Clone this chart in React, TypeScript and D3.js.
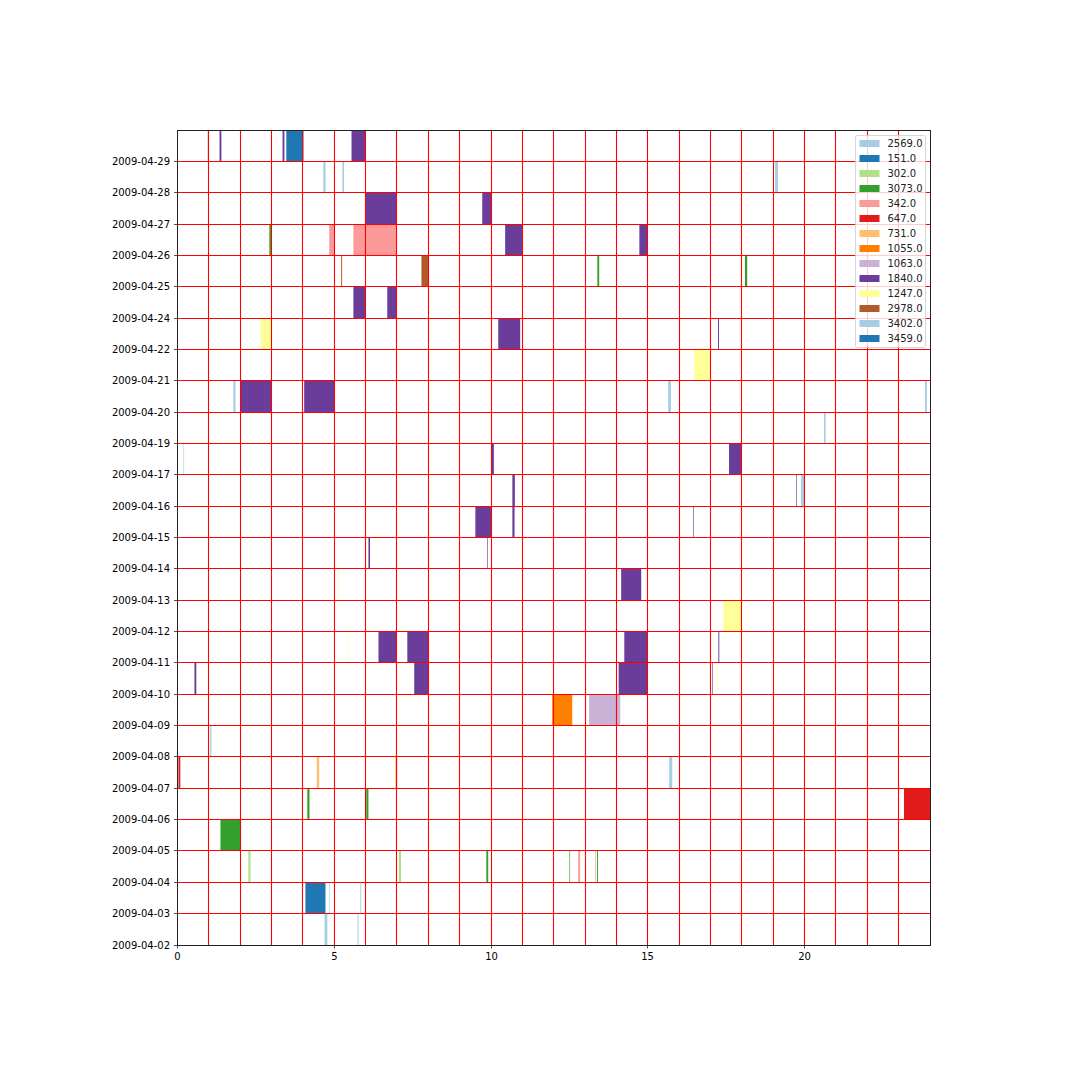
import { useMemo } from "react";
import * as d3 from "d3";

const WIDTH = 1080;
const HEIGHT = 1080;
const MARGIN = { top: 130, right: 150, bottom: 135, left: 177 };

// row labels, bottom to top
const DATES = [
  "2009-04-02", "2009-04-03", "2009-04-04", "2009-04-05", "2009-04-06",
  "2009-04-07", "2009-04-08", "2009-04-09", "2009-04-10", "2009-04-11",
  "2009-04-12", "2009-04-13", "2009-04-14", "2009-04-15", "2009-04-16",
  "2009-04-17", "2009-04-19", "2009-04-20", "2009-04-21", "2009-04-22",
  "2009-04-24", "2009-04-25", "2009-04-26", "2009-04-27", "2009-04-28",
  "2009-04-29",
];

// legend order
const CATEGORIES = [
  "2569.0", "151.0", "302.0", "3073.0", "342.0", "647.0", "731.0",
  "1055.0", "1063.0", "1840.0", "1247.0", "2978.0", "3402.0", "3459.0",
];

const X_TICKS = [0, 5, 10, 15, 20];

// [date, start hour, end hour, category]
const SESSIONS: [string, number, number, string][] = [
  ["2009-04-02", 4.69, 4.78, "2569.0"],
  ["2009-04-02", 5.74, 5.77, "3402.0"],
  ["2009-04-03", 4.08, 4.72, "151.0"],
  ["2009-04-03", 4.84, 4.86, "2569.0"],
  ["2009-04-03", 5.83, 5.86, "2569.0"],
  ["2009-04-04", 2.26, 2.33, "302.0"],
  ["2009-04-04", 7.06, 7.13, "302.0"],
  ["2009-04-04", 9.85, 9.91, "3073.0"],
  ["2009-04-04", 12.5, 12.52, "3073.0"],
  ["2009-04-04", 12.78, 12.84, "342.0"],
  ["2009-04-04", 13.32, 13.34, "342.0"],
  ["2009-04-04", 13.38, 13.41, "3073.0"],
  ["2009-04-05", 1.37, 2.02, "3073.0"],
  ["2009-04-06", 4.14, 4.21, "3073.0"],
  ["2009-04-06", 6.02, 6.09, "3073.0"],
  ["2009-04-06", 23.17, 24.0, "647.0"],
  ["2009-04-07", 0.03, 0.09, "647.0"],
  ["2009-04-07", 4.44, 4.52, "731.0"],
  ["2009-04-07", 6.95, 7.01, "731.0"],
  ["2009-04-07", 15.68, 15.78, "2569.0"],
  ["2009-04-08", 1.04, 1.08, "2569.0"],
  ["2009-04-09", 11.95, 12.59, "1055.0"],
  ["2009-04-09", 13.13, 14.12, "1063.0"],
  ["2009-04-10", 0.54, 0.6, "1840.0"],
  ["2009-04-10", 7.55, 8.0, "1840.0"],
  ["2009-04-10", 14.07, 15.0, "1840.0"],
  ["2009-04-10", 17.05, 17.07, "1840.0"],
  ["2009-04-10", 17.22, 17.24, "1247.0"],
  ["2009-04-11", 5.43, 5.45, "1247.0"],
  ["2009-04-11", 6.41, 7.0, "1840.0"],
  ["2009-04-11", 7.33, 8.0, "1840.0"],
  ["2009-04-11", 14.25, 15.0, "1840.0"],
  ["2009-04-11", 17.25, 17.28, "1840.0"],
  ["2009-04-12", 17.41, 18.0, "1247.0"],
  ["2009-04-13", 5.13, 5.15, "1247.0"],
  ["2009-04-13", 14.15, 14.79, "1840.0"],
  ["2009-04-14", 6.09, 6.14, "1840.0"],
  ["2009-04-14", 9.88, 9.9, "1840.0"],
  ["2009-04-15", 9.5, 10.02, "1840.0"],
  ["2009-04-15", 10.68, 10.75, "1840.0"],
  ["2009-04-15", 16.45, 16.47, "1840.0"],
  ["2009-04-16", 10.68, 10.76, "1840.0"],
  ["2009-04-16", 19.73, 19.75, "1840.0"],
  ["2009-04-16", 19.89, 19.98, "2569.0"],
  ["2009-04-17", 0.19, 0.21, "2569.0"],
  ["2009-04-17", 10.02, 10.09, "1840.0"],
  ["2009-04-17", 17.59, 18.0, "1840.0"],
  ["2009-04-19", 20.62, 20.67, "2569.0"],
  ["2009-04-20", 1.78, 1.85, "2569.0"],
  ["2009-04-20", 2.0, 3.0, "1840.0"],
  ["2009-04-20", 4.04, 5.0, "1840.0"],
  ["2009-04-20", 15.65, 15.74, "3402.0"],
  ["2009-04-20", 23.84, 23.9, "2569.0"],
  ["2009-04-21", 16.48, 17.0, "1247.0"],
  ["2009-04-22", 2.65, 3.0, "1247.0"],
  ["2009-04-22", 10.23, 10.93, "1840.0"],
  ["2009-04-22", 17.24, 17.27, "1840.0"],
  ["2009-04-24", 5.61, 6.0, "1840.0"],
  ["2009-04-24", 6.69, 7.0, "1840.0"],
  ["2009-04-25", 5.22, 5.25, "2978.0"],
  ["2009-04-25", 7.78, 8.0, "2978.0"],
  ["2009-04-25", 13.39, 13.45, "3073.0"],
  ["2009-04-25", 18.1, 18.17, "3073.0"],
  ["2009-04-26", 2.93, 3.0, "3073.0"],
  ["2009-04-26", 4.84, 5.02, "342.0"],
  ["2009-04-26", 5.61, 6.98, "342.0"],
  ["2009-04-26", 10.45, 11.0, "1840.0"],
  ["2009-04-26", 14.73, 15.0, "1840.0"],
  ["2009-04-27", 6.0, 7.0, "1840.0"],
  ["2009-04-27", 9.72, 10.0, "1840.0"],
  ["2009-04-28", 4.65, 4.72, "2569.0"],
  ["2009-04-28", 5.26, 5.31, "2569.0"],
  ["2009-04-28", 19.06, 19.15, "3402.0"],
  ["2009-04-29", 0.96, 1.0, "2569.0"],
  ["2009-04-29", 1.34, 1.4, "1840.0"],
  ["2009-04-29", 3.35, 3.41, "1840.0"],
  ["2009-04-29", 3.47, 4.02, "3459.0"],
  ["2009-04-29", 5.55, 6.0, "1840.0"],
];

const FONT = "DejaVu Sans, sans-serif";

// put a 1px line on a pixel centre
const snap = (v: number) => Math.floor(v) + 0.5;

export default function App() {
  const boundsWidth = WIDTH - MARGIN.left - MARGIN.right;
  const boundsHeight = HEIGHT - MARGIN.top - MARGIN.bottom;

  const xScale = useMemo(
    () => d3.scaleLinear().domain([0, 24]).range([0.5, boundsWidth]),
    [boundsWidth]
  );
  const yScale = useMemo(
    () => d3.scaleLinear().domain([0, DATES.length]).range([boundsHeight, 0]),
    [boundsHeight]
  );
  // matplotlib "Paired" cycle, wraps after 12
  const color = useMemo(
    () =>
      d3
        .scaleOrdinal<string, string>()
        .domain(CATEGORIES)
        .range(CATEGORIES.map((_, i) => d3.schemePaired[i % 12])),
    []
  );

  const hourLines = d3.range(1, 24);
  const rowLines = d3.range(1, DATES.length);
  const x0 = snap(xScale(0));
  const x24 = snap(xScale(24));

  return (
    <svg
      width={WIDTH}
      height={HEIGHT}
      style={{ position: "absolute", left: 0, top: 0, background: "white" }}
      fontFamily={FONT}
    >
      <g transform={`translate(${MARGIN.left},${MARGIN.top})`}>
        {SESSIONS.map(([date, start, end, cat], i) => {
          const row = DATES.indexOf(date);
          return (
            <rect
              key={i}
              x={xScale(start)}
              width={Math.max(xScale(end) - xScale(start), 0.6)}
              y={yScale(row + 1)}
              height={yScale(row) - yScale(row + 1)}
              fill={color(cat)}
            />
          );
        })}

        {/* grid sits above the bars */}
        <g stroke="#ff0000" strokeWidth={1.1}>
          {hourLines.map((h) => (
            <line
              key={"v" + h}
              x1={snap(xScale(h))}
              x2={snap(xScale(h))}
              y1={0}
              y2={boundsHeight}
            />
          ))}
          {rowLines.map((r) => (
            <line
              key={"h" + r}
              x1={x0}
              x2={x24}
              y1={snap(yScale(r))}
              y2={snap(yScale(r))}
            />
          ))}
        </g>

        {/* spines */}
        <rect
          x={x0}
          y={0.5}
          width={x24 - x0}
          height={snap(boundsHeight) - 0.5}
          fill="none"
          stroke="#222"
          strokeWidth={1}
        />

        {/* y axis */}
        {DATES.map((d, i) => (
          <g key={d} transform={`translate(0,${snap(yScale(i))})`}>
            <line x1={x0 - 3.5} x2={x0} stroke="#222" strokeWidth={0.8} />
            <text
              x={-7}
              dy="0.35em"
              textAnchor="end"
              fontSize={10}
              fill="#000"
            >
              {d}
            </text>
          </g>
        ))}

        {/* x axis */}
        {X_TICKS.map((t) => (
          <g key={t} transform={`translate(${snap(xScale(t))},${boundsHeight})`}>
            <line y1={0} y2={3.5} stroke="#222" strokeWidth={0.8} />
            <text y={7} dy="0.76em" textAnchor="middle" fontSize={10} fill="#000">
              {t}
            </text>
          </g>
        ))}

        {/* legend, upper right */}
        <g transform={`translate(${x24 - 75},5.5)`}>
          <rect
            x={0}
            y={0}
            width={70}
            height={212}
            rx={2}
            fill="white"
            fillOpacity={0.8}
            stroke="#cccccc"
            strokeWidth={0.8}
          />
          {CATEGORIES.map((c, i) => (
            <g key={c} transform={`translate(4,${8 + i * 15})`}>
              <rect x={0} y={-3.5} width={20} height={7} fill={color(c)} />
              <text x={28} dy="0.36em" fontSize={10} fill="#222">
                {c}
              </text>
            </g>
          ))}
        </g>
      </g>
    </svg>
  );
}
